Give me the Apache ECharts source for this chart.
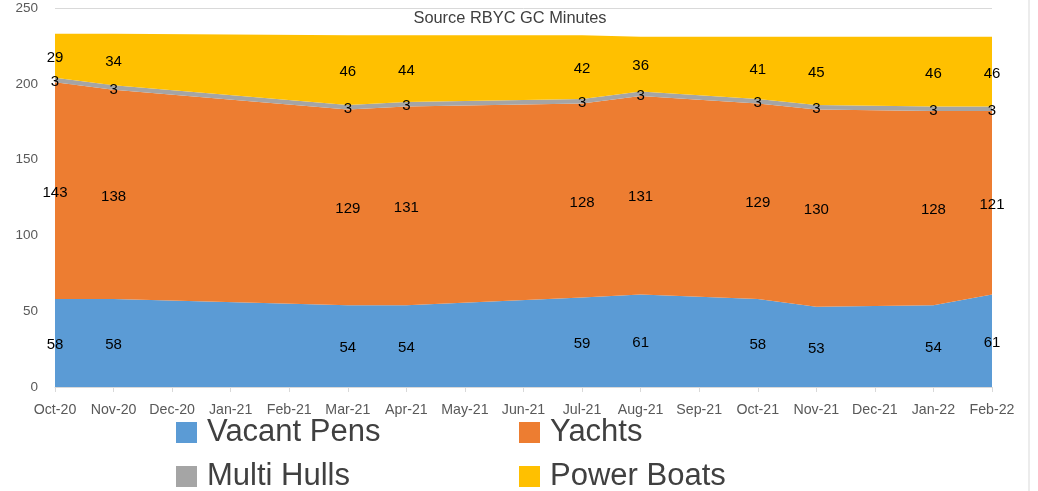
<!DOCTYPE html>
<html>
<head>
<meta charset="utf-8">
<script src="https://cdn.jsdelivr.net/npm/echarts@6/dist/echarts.min.js"></script>
<style>html,body{margin:0;padding:0;background:#fff;}#c{width:1038px;height:491px;}</style>
</head>
<body>
<div id="c"></div>
<script>
var months = ['Oct-20','Nov-20','Dec-20','Jan-21','Feb-21','Mar-21','Apr-21','May-21','Jun-21','Jul-21','Aug-21','Sep-21','Oct-21','Nov-21','Dec-21','Jan-22','Feb-22'];
var vacantPens = [58, 58, null, null, null, 54, 54, null, null, 59, 61, null, 58, 53, null, 54, 61];
var yachts     = [143, 138, null, null, null, 129, 131, null, null, 128, 131, null, 129, 130, null, 128, 121];
var multiHulls = [3, 3, null, null, null, 3, 3, null, null, 3, 3, null, 3, 3, null, 3, 3];
var powerBoats = [29, 34, null, null, null, 46, 44, null, null, 42, 36, null, 41, 45, null, 46, 46];
var yTicks = [0, 50, 100, 150, 200, 250];

var FONT = '"Liberation Sans", Arial, sans-serif';
var gridTop = 8, gridBottom = 104;
var chartH = 491;
var pxPerUnit = (chartH - gridTop - gridBottom) / (yTicks[yTicks.length - 1] - yTicks[0]);

function toData(arr) {
  var out = [];
  arr.forEach(function (v, i) {
    if (v === null) return;
    out.push({
      value: [months[i], v],
      label: { show: true, position: 'inside', offset: [0, v * pxPerUnit / 2 + 2] }
    });
  });
  return out;
}

function mk(name, arr, color) {
  return {
    name: name,
    type: 'line',
    stack: 'total',
    data: toData(arr),
    symbol: 'circle',
    symbolSize: 0,
    showSymbol: true,
    lineStyle: { width: 0, color: color },
    itemStyle: { color: color },
    areaStyle: { color: color, opacity: 1 },
    label: { color: '#000', fontSize: 15, fontFamily: FONT },
    emphasis: { disabled: true },
    silent: true
  };
}

var legendText = { fontSize: 31, lineHeight: 30, color: '#404040', fontFamily: FONT, padding: [0, 0, 0, 5] };

var chart = echarts.init(document.getElementById('c'), null, { renderer: 'canvas' });
chart.setOption({
  animation: false,
  backgroundColor: '#fff',
  title: {
    text: 'Source RBYC GC Minutes',
    left: 505, textAlign: 'center', top: 5,
    textStyle: { fontSize: 16.4, fontWeight: 'normal', color: '#404040', fontFamily: FONT }
  },
  legend: [
    {
      data: ['Vacant Pens', 'Multi Hulls'],
      orient: 'vertical', left: 176, top: 417, height: 100, padding: 0,
      itemWidth: 21, itemHeight: 21, itemGap: 13, icon: 'rect',
      textStyle: legendText
    },
    {
      data: ['Yachts', 'Power Boats'],
      orient: 'vertical', left: 519, top: 417, height: 100, padding: 0,
      itemWidth: 21, itemHeight: 21, itemGap: 13, icon: 'rect',
      textStyle: legendText
    }
  ],
  grid: { left: 55, right: 46, top: gridTop, bottom: gridBottom, containLabel: false },
  xAxis: {
    type: 'category',
    data: months,
    boundaryGap: false,
    axisLine: { show: true, lineStyle: { color: '#D9D9D9' } },
    axisTick: { show: true, length: 5, lineStyle: { color: '#D9D9D9' } },
    axisLabel: { color: '#595959', fontSize: 14.2, fontFamily: FONT, margin: 16, interval: 0 },
    splitLine: { show: false },
    z: 10
  },
  yAxis: {
    type: 'value',
    min: yTicks[0], max: yTicks[yTicks.length - 1], interval: yTicks[1] - yTicks[0],
    axisLine: { show: false },
    axisTick: { show: false },
    axisLabel: { color: '#595959', fontSize: 13.5, fontFamily: FONT, margin: 17 },
    splitLine: { lineStyle: { color: '#D9D9D9' } }
  },
  graphic: [
    { type: 'line', shape: { x1: 1029, y1: 0, x2: 1029, y2: 491 }, style: { stroke: '#D9D9D9', lineWidth: 1 } }
  ],
  series: [
    mk('Vacant Pens', vacantPens, '#5B9BD5'),
    mk('Yachts', yachts, '#ED7D31'),
    mk('Multi Hulls', multiHulls, '#A5A5A5'),
    mk('Power Boats', powerBoats, '#FFC000')
  ]
});
</script>
</body>
</html>
